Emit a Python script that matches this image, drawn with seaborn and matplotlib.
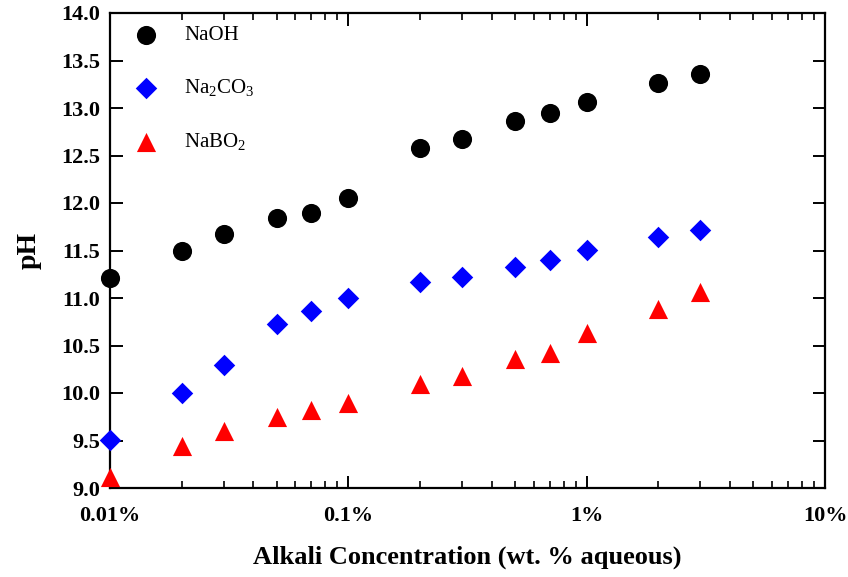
import numpy as np
import pandas as pd
import matplotlib
matplotlib.use("Agg")
import matplotlib.pyplot as plt
import seaborn as sns
from matplotlib.ticker import LogLocator, FixedLocator, NullFormatter, NullLocator

# ---- data ----
concentration = [0.01, 0.02, 0.03, 0.05, 0.07, 0.1, 0.2, 0.3, 0.5, 0.7, 1, 2, 3]
ph_naoh = [11.21, 11.49, 11.67, 11.84, 11.90, 12.05, 12.58, 12.67, 12.86, 12.95, 13.06, 13.26, 13.36]
ph_na2co3 = [9.51, 10.00, 10.29, 10.73, 10.86, 11.00, 11.17, 11.22, 11.33, 11.40, 11.51, 11.64, 11.72]
ph_nabo2 = [9.12, 9.44, 9.60, 9.75, 9.82, 9.90, 10.09, 10.18, 10.36, 10.42, 10.63, 10.88, 11.06]
series_labels = ["NaOH", r"Na$_2$CO$_3$", r"NaBO$_2$"]
x_ticks = [0.01, 0.1, 1, 10]
x_tick_labels = ["0.01%", "0.1%", "1%", "10%"]
y_ticks = [9.0, 9.5, 10.0, 10.5, 11.0, 11.5, 12.0, 12.5, 13.0, 13.5, 14.0]

df = pd.DataFrame({
    "conc": concentration * 3,
    "pH": ph_naoh + ph_na2co3 + ph_nabo2,
    "alkali": [series_labels[0]] * len(concentration)
              + [series_labels[1]] * len(concentration)
              + [series_labels[2]] * len(concentration),
})

sns.set_theme(style="ticks")
plt.rcParams["font.family"] = ["Liberation Serif", "DejaVu Serif"]
plt.rcParams["mathtext.fontset"] = "custom"
plt.rcParams["mathtext.rm"] = "Liberation Serif"
plt.rcParams["text.color"] = "black"
plt.rcParams["axes.labelcolor"] = "black"
plt.rcParams["xtick.color"] = "black"
plt.rcParams["ytick.color"] = "black"
plt.rcParams["axes.edgecolor"] = "black"

fig = plt.figure(figsize=(8.48, 5.77), dpi=100)
ax = fig.add_axes([110 / 848, 1 - 488 / 577, (825 - 110) / 848, (488 - 13) / 577])

palette = {series_labels[0]: "black", series_labels[1]: "#0000ff", series_labels[2]: "#ff0000"}
markers = {series_labels[0]: "o", series_labels[1]: "D", series_labels[2]: "^"}
sizes_pt = {series_labels[0]: 190, series_labels[1]: 120, series_labels[2]: 190}

for lab in series_labels:
    sub = df[df["alkali"] == lab]
    sns.scatterplot(data=sub, x="conc", y="pH", color=palette[lab], marker=markers[lab],
                    s=sizes_pt[lab], linewidth=0, ax=ax, label=lab, clip_on=False, zorder=3)

ax.set_xscale("log")
ax.set_xlim(0.01, 10)
ax.set_ylim(9.0, 14.0)

ax.xaxis.set_major_locator(FixedLocator(x_ticks))
ax.set_xticklabels(x_tick_labels)
ax.xaxis.set_minor_locator(LogLocator(base=10, subs=np.arange(2, 10)))
ax.xaxis.set_minor_formatter(NullFormatter())
ax.set_yticks(y_ticks)
ax.set_yticklabels([f"{v:.1f}" for v in y_ticks])
ax.yaxis.set_minor_locator(NullLocator())

for s in ax.spines.values():
    s.set_visible(True)
    s.set_linewidth(1.6)
    s.set_color("black")

ax.tick_params(axis="both", which="major", direction="in", length=9, width=1.4,
               top=True, right=True, labelsize=16, pad=7, colors="black")
ax.tick_params(axis="both", which="minor", direction="in", length=5, width=1.2,
               top=True, right=True)
for lbl in ax.get_xticklabels() + ax.get_yticklabels():
    lbl.set_fontweight("bold")
ax.tick_params(axis="x", pad=13)

ax.set_xlabel("Alkali Concentration (wt. % aqueous)", fontsize=19, fontweight="bold", labelpad=14)
ax.set_ylabel("pH", fontsize=20, fontweight="bold", labelpad=14)

leg = ax.legend(loc="upper left", frameon=False, fontsize=15, labelspacing=1.55,
                handletextpad=0.85, borderaxespad=0.0, bbox_to_anchor=(0.006, 0.995),
                markerscale=1.0, borderpad=0.5)
for t in leg.get_texts():
    t.set_color("black")

ax.set_facecolor("white")
fig.patch.set_facecolor("white")
fig.savefig("out.png", dpi=100, facecolor="white")
